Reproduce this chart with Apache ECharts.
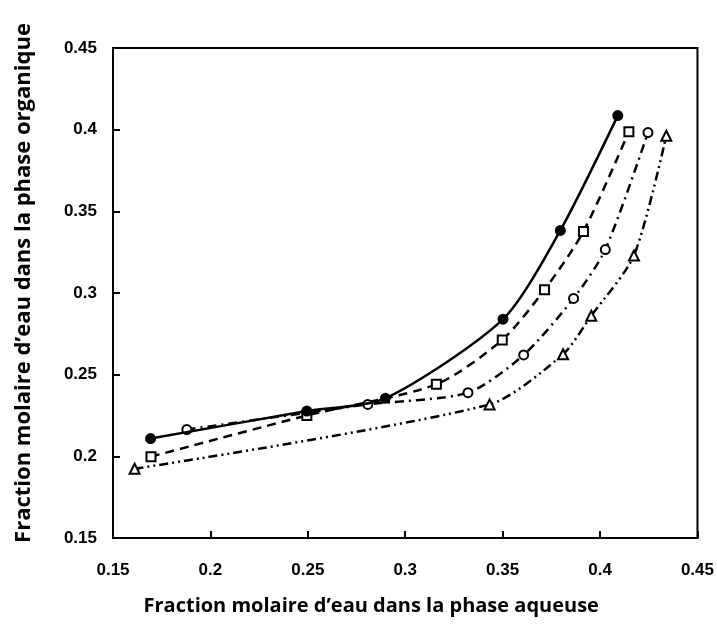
<!DOCTYPE html>
<html>
<head>
<meta charset="utf-8">
<script src="https://cdn.jsdelivr.net/npm/echarts@6/dist/echarts.min.js"></script>
<style>
html,body{margin:0;padding:0;background:#fff;}
#chart{width:717px;height:632px;}
</style>
</head>
<body>
<div id="chart"></div>
<script>
// Data
const xTicks = [0.15, 0.2, 0.25, 0.3, 0.35, 0.4, 0.45];
const yTicks = [0.15, 0.2, 0.25, 0.3, 0.35, 0.4, 0.45];

const filledX = [0.1693, 0.2495, 0.2898, 0.3502, 0.3796, 0.4091];
const filledY = [0.2109, 0.2277, 0.2355, 0.2840, 0.3383, 0.4086];

const squareX = [0.1695, 0.2495, 0.3160, 0.3498, 0.3715, 0.3915, 0.4148];
const squareY = [0.1998, 0.2250, 0.2441, 0.2713, 0.3020, 0.3377, 0.3988];

const circleX = [0.1879, 0.2808, 0.3322, 0.3608, 0.3864, 0.4027, 0.4246];
const circleY = [0.2164, 0.2318, 0.2390, 0.2621, 0.2967, 0.3266, 0.3982];

const triX = [0.1611, 0.3433, 0.3810, 0.3955, 0.4174, 0.4340];
const triY = [0.1924, 0.2318, 0.2625, 0.2861, 0.3229, 0.3963];

const xTitle = 'Fraction molaire d\u2019eau dans la phase aqueuse';
const yTitle = 'Fraction molaire d\u2019eau dans la phase organique';

function pairs(xs, ys){ return xs.map((x,i)=>[x, ys[i]]); }

const chart = echarts.init(document.getElementById('chart'), null, {renderer:'canvas'});
const tickFont = {color:'#000', fontFamily:'"Liberation Sans Narrow","Liberation Sans",sans-serif', fontWeight:'bold', fontSize:17};
const titleFont = {color:'#000', fontFamily:'"Open Sans","Noto Sans",sans-serif', fontWeight:'bold'};

function series(name, xs, ys, symbol, size, filled, dash){
  return {
    name, type:'line', data:pairs(xs, ys), smooth:0.25,
    symbol, symbolSize:size, showAllSymbol:true,
    lineStyle:{color:'#000', width:2.5, type:dash},
    itemStyle:{color: filled ? '#000' : '#fff', borderColor:'#000', borderWidth: filled ? 0 : 2},
    z: filled ? 5 : 4,
    animation:false
  };
}

chart.setOption({
  animation:false,
  backgroundColor:'#fff',
  grid:{left:113, right:19, top:48, bottom:94, show:true, borderColor:'#000', borderWidth:2, backgroundColor:'transparent'},
  xAxis:{
    type:'value', min:xTicks[0], max:xTicks[xTicks.length-1], interval:0.05,
    axisLine:{lineStyle:{color:'#000', width:2}},
    axisTick:{inside:true, length:7, lineStyle:{color:'#000', width:2}},
    splitLine:{show:false},
    axisLabel:Object.assign({margin:24, formatter:v=>String(+v.toFixed(2))}, tickFont),
    name:xTitle, nameLocation:'middle', nameGap:58,
    nameTextStyle:Object.assign({fontSize:20, padding:[0,68,0,0]}, titleFont)
  },
  yAxis:{
    type:'value', min:yTicks[0], max:yTicks[yTicks.length-1], interval:0.05,
    axisLine:{lineStyle:{color:'#000', width:2}},
    axisTick:{inside:true, length:7, lineStyle:{color:'#000', width:2}},
    splitLine:{show:false},
    axisLabel:Object.assign({margin:16, formatter:v=>String(+v.toFixed(2))}, tickFont),
    name:yTitle, nameLocation:'middle', nameGap:78,
    nameTextStyle:Object.assign({fontSize:22, padding:[0,0,0,20]}, titleFont)
  },
  series:[
    series('filled', filledX, filledY, 'circle', 11, true, 'solid'),
    series('square', squareX, squareY, 'rect', 9, false, [9,6]),
    series('circle', circleX, circleY, 'circle', 9, false, [9,5,2,5]),
    series('triangle', triX, triY, 'triangle', 10, false, [9,4,2,4,2,4])
  ]
});
</script>
</body>
</html>
